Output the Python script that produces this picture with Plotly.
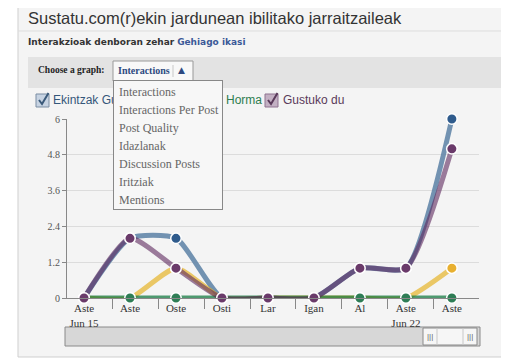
import plotly.graph_objects as go

# ---- data ----
day_labels = ["Aste<br>Jun 15", "Aste", "Oste", "Osti", "Lar", "Igan", "Al", "Aste<br>Jun 22", "Aste"]
total_all = [0, 2, 2, 0, 0, 0, 1, 1, 6]      # Ekintzak Guztiak
comments = [0, 0, 1, 0, 0, 0, 0, 0, 1]       # Iruzkinak
wall_posts = [0, 0, 0, 0, 0, 0, 0, 0, 0]     # Horma
likes = [0, 2, 1, 0, 0, 0, 1, 1, 5]          # Gustuko du
y_ticks = [0, 1.2, 2.4, 3.6, 4.8, 6]
y_tick_text = ["0", "1.2", "2.4", "3.6", "4.8", "6"]
menu_items = ["Interactions", "Interactions Per Post", "Post Quality", "Idazlanak",
              "Discussion Posts", "Iritziak", "Mentions"]

OFF = 8                      # page body margin
W, H = 509 - OFF, 364 - OFF
L, R, T, B = 67 - OFF, 30, 119 - OFF, 66
PW, PH = W - L - R, H - T - B


def PX(x):
    return (x - OFF - L) / PW


def PY(y):
    return (H - B - (y - OFF)) / PH


xs = list(range(len(day_labels)))
fig = go.Figure()


def add_series(name, vals, line_col, marker_col):
    fig.add_trace(go.Scatter(
        x=xs, y=vals, name=name, mode="lines+markers",
        line=dict(color=line_col, width=5, shape="spline", smoothing=0.6),
        marker=dict(color=marker_col, size=10.5, line=dict(color="white", width=1.5)),
        cliponaxis=False, showlegend=False, hoverinfo="skip"))


add_series("Ekintzak Guztiak", total_all, "rgba(100,135,170,0.9)", "#2f5b8c")
add_series("Iruzkinak", comments, "rgba(230,180,40,0.7)", "#e8b030")
add_series("Horma", wall_posts, "rgba(7,114,54,0.7)", "#2e7d55")
add_series("Gustuko du", likes, "rgba(94,40,94,0.6)", "#6a3a6a")

serif = "Liberation Serif"
sans = "Liberation Sans"

fig.update_layout(
    width=W, height=H,
    margin=dict(l=L, r=R, t=T, b=B),
    paper_bgcolor="white",
    plot_bgcolor="rgba(0,0,0,0)",
    xaxis=dict(range=[-0.37, 8.59], tickmode="array", tickvals=xs, ticktext=day_labels,
               ticks="", showgrid=False, zeroline=False, showline=True, linecolor="#888",
               linewidth=1, tickfont=dict(family=serif, size=11, color="#333"),
               minor=dict(tickmode="array", tickvals=[k - 0.39 for k in xs[1:]],
                          ticks="outside", ticklen=10, tickcolor="#888", showgrid=False)),
    yaxis=dict(range=[0, 6], tickmode="array", tickvals=y_ticks, ticktext=y_tick_text,
               ticks="outside", ticklen=4, tickcolor="#888", showline=True, linecolor="#888",
               gridcolor="#dcdcdc", gridwidth=1, zeroline=False,
               tickfont=dict(family=serif, size=10, color="#555")),
    yaxis2=dict(range=[0, 6], tickmode="array", tickvals=y_ticks, ticktext=y_tick_text,
                overlaying="y", side="right", anchor="x",
                ticks="outside", ticklen=4, tickcolor="#888", showline=True, linecolor="#888",
                showgrid=False, zeroline=False,
                tickfont=dict(family=serif, size=10, color="#555")),
)

shapes = []
# panel
shapes.append(dict(type="rect", xref="paper", yref="paper", x0=PX(18), x1=PX(530),
                   y0=PY(357), y1=PY(3), fillcolor="#f4f4f4", line=dict(color="#cfcfcf", width=1),
                   layer="below"))
shapes.append(dict(type="line", xref="paper", yref="paper", x0=PX(18), x1=PX(530),
                   y0=PY(31), y1=PY(31), line=dict(color="#dddddd", width=1), layer="below"))
# grey control bar
shapes.append(dict(type="rect", xref="paper", yref="paper", x0=PX(28), x1=PX(503),
                   y0=PY(88), y1=PY(57), fillcolor="#e3e3e3", line=dict(width=0), layer="below"))
# dropdown button
shapes.append(dict(type="rect", xref="paper", yref="paper", x0=PX(113), x1=PX(193),
                   y0=PY(81), y1=PY(61), fillcolor="#f8f8f8", line=dict(color="#999", width=1),
                   layer="below"))
shapes.append(dict(type="line", xref="paper", yref="paper", x0=PX(173), x1=PX(173),
                   y0=PY(77), y1=PY(65), line=dict(color="#c8c8c8", width=1), layer="below"))
# scrollbar
shapes.append(dict(type="rect", xref="paper", yref="paper", x0=PX(65), x1=PX(480),
                   y0=PY(346), y1=PY(327), fillcolor="#d7d7d7", line=dict(color="#8a8a8a", width=1),
                   layer="below"))
shapes.append(dict(type="rect", xref="paper", yref="paper", x0=PX(423), x1=PX(477),
                   y0=PY(345), y1=PY(328), fillcolor="#f6f6f6", line=dict(color="#8a8a8a", width=1),
                   layer="below"))
shapes.append(dict(type="line", xref="paper", yref="paper", x0=PX(437), x1=PX(437),
                   y0=PY(345), y1=PY(328), line=dict(color="#c8c8c8", width=1), layer="below"))
shapes.append(dict(type="line", xref="paper", yref="paper", x0=PX(463), x1=PX(463),
                   y0=PY(345), y1=PY(328), line=dict(color="#c8c8c8", width=1), layer="below"))


def checkbox(x, fill, border, tick):
    shapes.append(dict(type="rect", xref="paper", yref="paper", x0=PX(x), x1=PX(x + 13),
                       y0=PY(107), y1=PY(94), fillcolor=fill, line=dict(color=border, width=1),
                       layer="below"))
    p = "M {} {} L {} {} L {} {}".format(PX(x + 3), PY(100), PX(x + 6), PY(104), PX(x + 12.5), PY(93))
    shapes.append(dict(type="path", xref="paper", yref="paper", path=p,
                       line=dict(color=tick, width=2), layer="below"))


checkbox(36, "#c7d3e2", "#7b8da3", "#3b5a7a")
checkbox(265, "#c3b0c3", "#8f7290", "#5a3a5a")
fig.update_layout(shapes=shapes)

ann = []


def text(x, y, s, size, color, family=sans, anchor="left"):
    ann.append(dict(x=PX(x), y=PY(y), xref="paper", yref="paper", text=s, showarrow=False,
                    xanchor=anchor, yanchor="middle", font=dict(family=family, size=size, color=color)))


text(26, 18, "Sustatu.com(r)ekin jardunean ibilitako jarraitzaileak", 16.5, "#333", sans)
text(26, 42, "<b>Interakzioak denboran zehar</b> <b><span style='color:#3b5998'>Gehiago ikasi</span></b>",
     9, "#333", "DejaVu Sans")
text(36, 70, "<b>Choose a graph:</b>", 9.5, "#222", serif)
text(116, 70, "<b>Interactions</b>", 10, "#2d4a80", serif)
text(181, 70, "▲", 9, "#2d4a80", "DejaVu Sans", anchor="center")
# legend
text(51, 100, "Ekintzak Guztiak", 12, "#34577a")
text(224, 100, "Horma", 12, "#2e7d4f")
text(281, 100, "Gustuko du", 12, "#5a3a5a")
# scrollbar grips
text(430, 336, "|||", 8, "#666", sans, anchor="center")
text(470, 336, "|||", 8, "#666", sans, anchor="center")
# dropdown menu box
ann.append(dict(x=PX(113), y=PY(80), xref="paper", yref="paper", text=" ", showarrow=False,
                xanchor="left", yanchor="top", width=108, height=128, bgcolor="#f7f7f7",
                bordercolor="#888", borderwidth=1, borderpad=0))
for i, item in enumerate(menu_items):
    text(117, 92 + 18 * i, item, 12, "#666", serif)

fig.update_layout(annotations=ann)
fig.write_html("out.html")
